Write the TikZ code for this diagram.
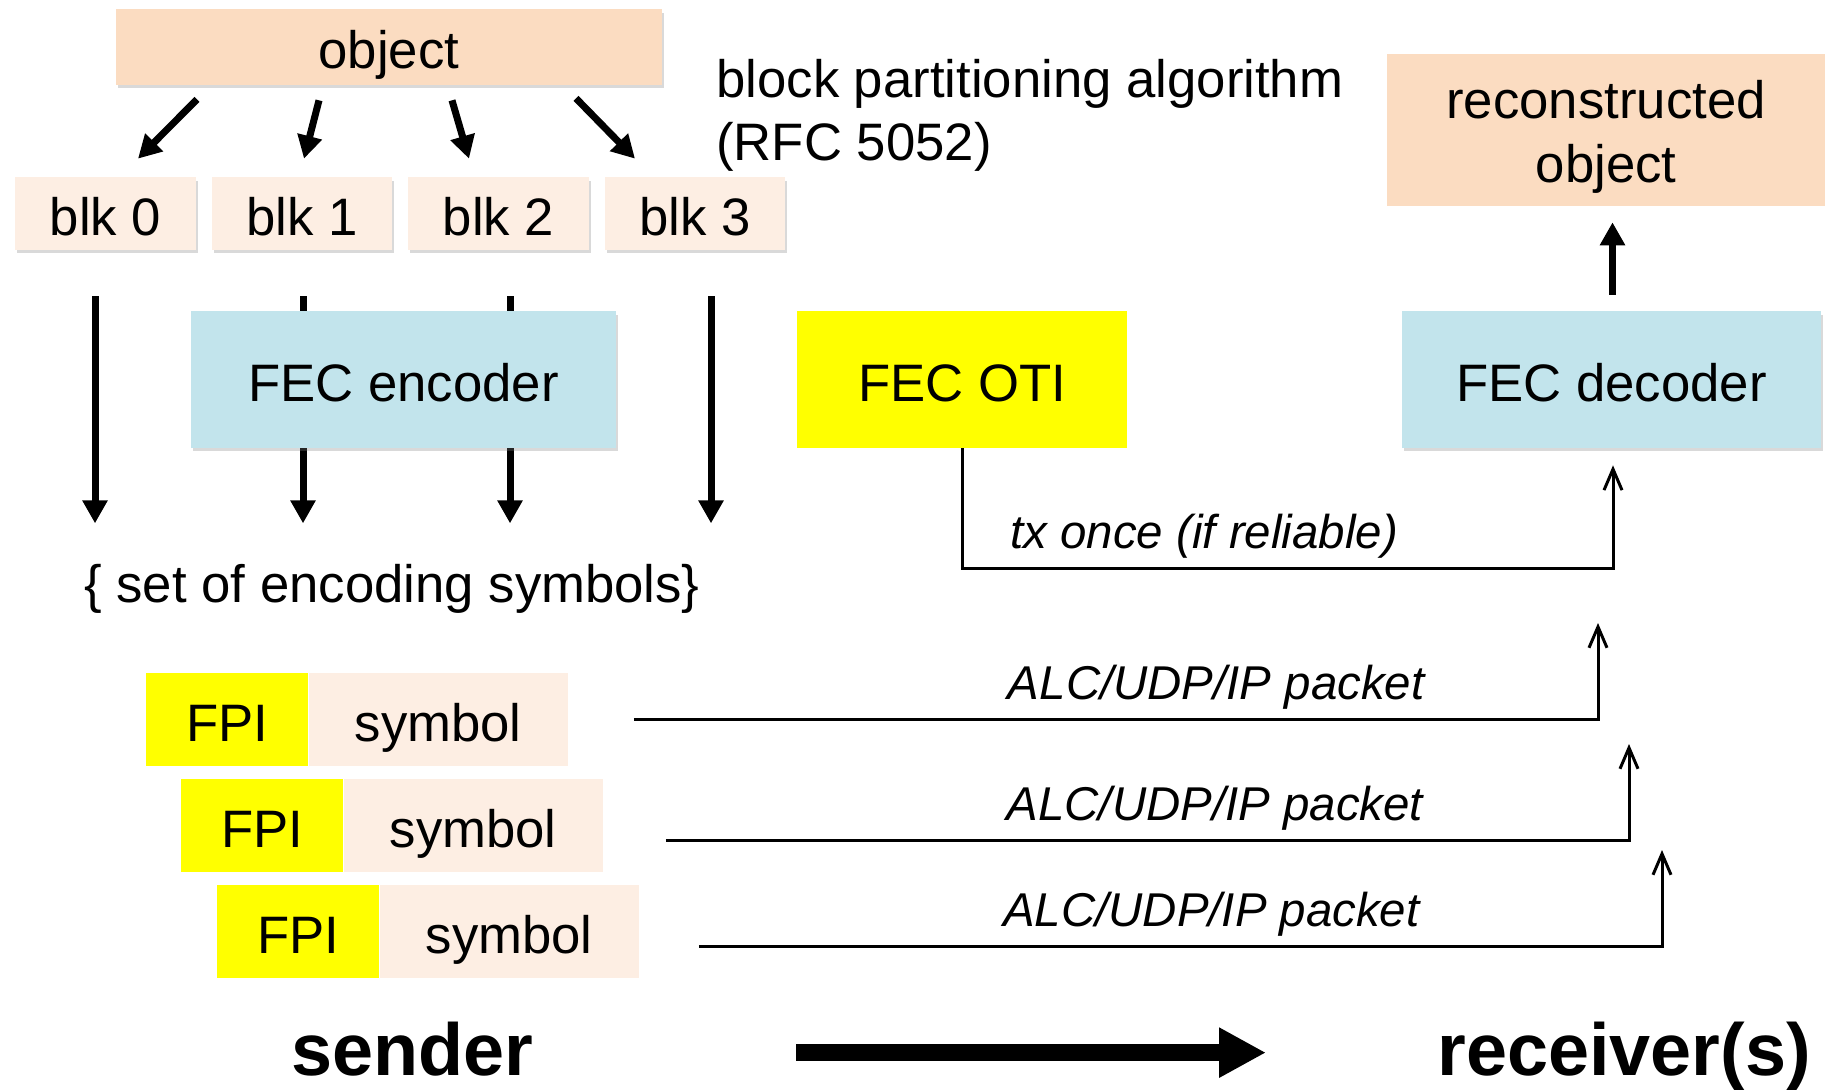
\documentclass[tikz,border=0pt]{standalone}
\usepackage{fontspec}
\setmainfont{Liberation Sans}
\usetikzlibrary{arrows.meta,positioning,shadows,calc}

\definecolor{peach}{HTML}{FBDCC1}
\definecolor{lightpeach}{HTML}{FDEEE3}
\definecolor{fecblue}{HTML}{C2E4EC}
\definecolor{otiyellow}{HTML}{FFFF00}

\tikzset{
  txt/.style={font=\fontsize{30}{36}\selectfont},
  box/.style={rectangle, inner sep=0pt, txt, text height=1.08cm, text depth=0.22cm},
  shade/.style={drop shadow={shadow xshift=0.04cm, shadow yshift=-0.07cm, opacity=0.3}},
  blkbox/.style={box, fill=lightpeach, shade, minimum width=3.62cm, minimum height=1.46cm},
  fpibox/.style={box, fill=otiyellow, minimum width=3.24cm, minimum height=1.86cm},
  symbox/.style={box, fill=lightpeach, minimum width=5.18cm, minimum height=1.86cm},
  fat/.style={line width=0.14cm, -{Triangle[length=0.46cm,width=0.48cm]}},
  wire/.style={line width=1.7pt, -{Straight Barb[length=0.42cm,width=0.36cm]}},
  lbl/.style={font=\fontsize{27}{32}\selectfont\itshape, above, inner sep=1pt, yshift=4pt},
  big/.style={font=\fontsize{42}{50}\selectfont\bfseries, inner sep=0pt}
}

\begin{document}
\begin{tikzpicture}[x=0.02cm, y=-0.02cm]
\useasboundingbox (0,0) rectangle (1825,1089);

\node[box, fill=peach, shade, minimum width=10.92cm, minimum height=1.52cm] (obj) at (389,47) {object};
\node[blkbox] (blk0) at (105.5,213.5) {blk 0};
\node[blkbox] (blk1) at (302,213.5) {blk 1};
\node[blkbox] (blk2) at (498.5,213.5) {blk 2};
\node[blkbox] (blk3) at (695,213.5) {blk 3};
\node[txt, align=left, anchor=west, inner sep=0pt] (algo) at (716,115) {block partitioning algorithm\\(RFC 5052)};

\draw[fat] ($(obj.south)+(-192,14)$) -- ($(blk0.north)+(32.5,-18)$);
\draw[fat] ($(obj.south)+(-70,15)$) -- ($(blk1.north)+(2,-18)$);
\draw[fat] ($(obj.south)+(63,15)$) -- ($(blk2.north)+(-29.5,-18)$);
\draw[fat] ($(obj.south)+(187,13)$) -- ($(blk3.north)+(-60,-18)$);

\draw[fat] ($(blk0.south)+(-10.5,46)$) -- ($(blk0.south)+(-10.5,273)$);
\draw[fat] ($(blk1.south)+(1,46)$) -- ($(blk1.south)+(1,273)$);
\draw[fat] ($(blk2.south)+(11.5,46)$) -- ($(blk2.south)+(11.5,273)$);
\draw[fat] ($(blk3.south)+(16,46)$) -- ($(blk3.south)+(16,273)$);

\node[box, fill=fecblue, shade, minimum width=8.5cm, minimum height=2.74cm] (enc) at (403.5,379.5) {FEC encoder};
\node[box, fill=otiyellow, minimum width=6.6cm, minimum height=2.74cm] (oti) at (962,379.5) {FEC OTI};
\node[box, fill=fecblue, shade, minimum width=8.38cm, minimum height=2.74cm] (dec) at (1611.5,379.5) {FEC decoder};
\node[rectangle, inner sep=0pt, txt, fill=peach, align=center, text height=2.3cm, minimum width=8.76cm, minimum height=3.04cm] (recon) at (1606,130) {reconstructed\\object};

\draw[fat] ($(dec.north)+(1,-16)$) -- ($(recon.south)+(6.5,16)$);
\draw[wire] (oti.south) -- ($(oti.south)+(0,120)$) -| node[lbl, pos=0.186] {tx once (if reliable)} ($(dec.south)+(1.5,17)$);

\node[txt, anchor=base, inner sep=0pt] (syms) at (392,602) {\{ set of encoding symbols\}};

\node[fpibox] (fpi1) at (227,719.5) {FPI};
\node[symbox, right=0pt of fpi1] (sym1) {symbol};
\node[fpibox] (fpi2) at (262,825.5) {FPI};
\node[symbox, right=0pt of fpi2] (sym2) {symbol};
\node[fpibox] (fpi3) at (298,931.5) {FPI};
\node[symbox, right=0pt of fpi3] (sym3) {symbol};

\coordinate (in1) at (1598,623);
\coordinate (in2) at (1629,744);
\coordinate (in3) at (1662,850);
\draw[wire] ($(sym1.east)+(66,0)$) -| node[lbl, pos=0.302] {ALC/UDP/IP packet} (in1);
\draw[wire] ($(sym2.east)+(63,15)$) -| node[lbl, pos=0.285] {ALC/UDP/IP packet} (in2);
\draw[wire] ($(sym3.east)+(60,15)$) -| node[lbl, pos=0.266] {ALC/UDP/IP packet} (in3);

\node[big, anchor=base] (sender) at (412,1075) {sender};
\node[big, anchor=base west] (recv) at (1437,1075) {receiver(s)};
\draw[line width=0.34cm, -{Triangle[length=0.94cm,width=0.94cm]}] ($(sender.east)+(263,4)$) -- ($(sender.east -| recv.west)+(-171,4)$);
\end{tikzpicture}
\end{document}
